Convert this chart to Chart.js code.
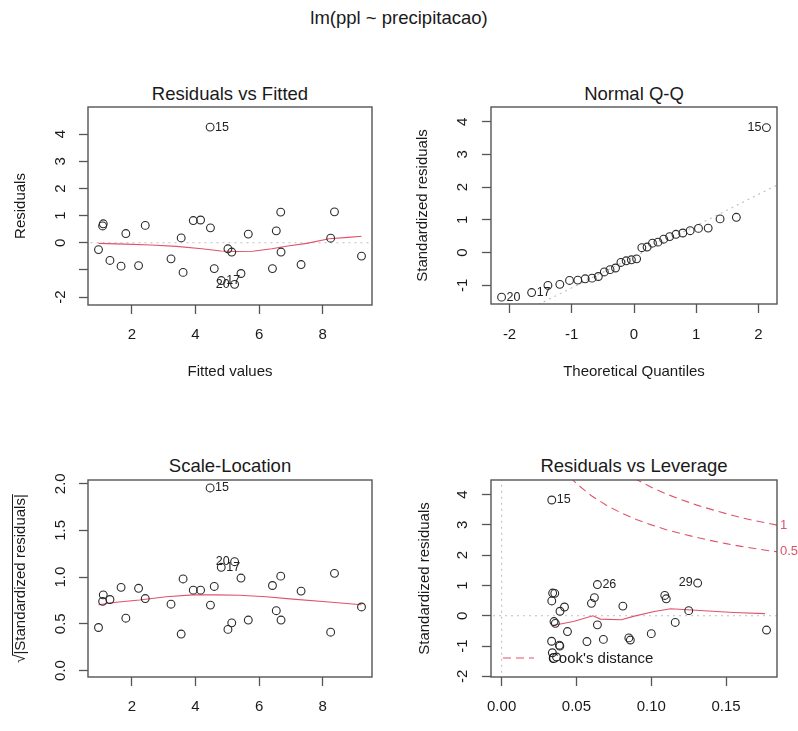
<!DOCTYPE html>
<html>
<head>
<meta charset="utf-8">
<title>lm(ppl ~ precipitacao)</title>
<script src="https://cdn.jsdelivr.net/npm/chart.js@4.4.1/dist/chart.umd.min.js"></script>
<style>
  body { margin: 0; background: #fff; }
  #wrap { position: relative; width: 798px; height: 731px; overflow: hidden;
          font-family: "Liberation Sans", Arial, sans-serif; color: #1a1a1a; }
  #wrap canvas { position: absolute; left: 0; top: 0; }
  .ttl { position: absolute; transform: translate(-50%, -50%); white-space: nowrap; font-size: 18.5px; }
</style>
</head>
<body>
<div id="wrap">
  <div class="ttl" style="left:399px;top:18px">lm(ppl ~ precipitacao)</div>
  <div class="ttl" style="left:230px;top:94px">Residuals vs Fitted</div>
  <div class="ttl" style="left:634px;top:94px">Normal Q-Q</div>
  <div class="ttl" style="left:230px;top:466px">Scale-Location</div>
  <div class="ttl" style="left:634px;top:466px">Residuals vs Leverage</div>
  <canvas id="c1" width="798" height="731"></canvas>
  <canvas id="c2" width="798" height="731"></canvas>
  <canvas id="c3" width="798" height="731"></canvas>
  <canvas id="c4" width="798" height="731"></canvas>
</div>

<script>
var fitted    = [0.95, 1.08, 1.10, 1.31, 1.66, 1.81, 2.21, 2.42, 3.23, 3.55, 3.61, 3.93, 4.16, 4.46, 4.47,
                 4.59, 4.81, 5.02, 5.14, 5.23, 5.43, 5.66, 6.42, 6.54, 6.68, 6.69, 7.32, 8.25, 8.37, 9.22];
var residuals = [-0.25, 0.62, 0.70, -0.65, -0.86, 0.34, -0.84, 0.64, -0.59, 0.18, -1.09, 0.82, 0.84, 4.26, 0.55,
                 -0.95, -1.39, -0.22, -0.34, -1.53, -1.13, 0.32, -0.95, 0.44, 1.13, -0.34, -0.80, 0.17, 1.14, -0.49];
var stdRes    = [-0.22, 0.56, 0.67, -0.59, -0.80, 0.32, -0.78, 0.60, -0.52, 0.15, -0.97, 0.74, 0.75, 3.82, 0.49,
                 -0.84, -1.22, -0.19, -0.25, -1.36, -1.00, 0.29, -0.85, 0.41, 1.03, -0.30, -0.73, 0.17, 1.08, -0.47];
var sqrtStdRes = [0.46, 0.74, 0.81, 0.76, 0.89, 0.56, 0.88, 0.77, 0.71, 0.39, 0.98, 0.86, 0.86, 1.955, 0.70,
                  0.90, 1.105, 0.44, 0.51, 1.165, 0.99, 0.54, 0.91, 0.64, 1.01, 0.54, 0.85, 0.41, 1.04, 0.68];
var leverage  = [0.116, 0.110, 0.109, 0.100, 0.086, 0.081, 0.068, 0.062, 0.044, 0.039, 0.0386, 0.0355, 0.0341, 0.0335, 0.0335,
                 0.0334, 0.0339, 0.0350, 0.0359, 0.0367, 0.0389, 0.042, 0.057, 0.060, 0.064, 0.064, 0.085, 0.125, 0.131, 0.177];

// normal Q-Q: theoretical quantiles and sorted standardized residuals
var qqTheo   = [-2.128, -1.645, -1.383, -1.192, -1.036, -0.903, -0.784, -0.674, -0.573, -0.477, -0.385, -0.297, -0.210, -0.126, -0.042,
                0.042, 0.126, 0.210, 0.297, 0.385, 0.477, 0.573, 0.674, 0.784, 0.903, 1.036, 1.192, 1.383, 1.645, 2.128];
var qqSample = [-1.36, -1.22, -1.00, -0.97, -0.85, -0.84, -0.80, -0.78, -0.73, -0.59, -0.52, -0.47, -0.30, -0.25, -0.22,
                -0.19, 0.15, 0.17, 0.29, 0.32, 0.41, 0.49, 0.56, 0.60, 0.67, 0.74, 0.75, 1.03, 1.08, 3.82];
var qqLineX = [-2.4, 2.4];
var qqLineY = [-2.41, 2.16];

// red smoothers
var smooth1X = [0.95, 1.8, 2.6, 3.4, 4.2, 4.8, 5.3, 5.8, 6.4, 6.9, 7.5, 8.2, 8.8, 9.22];
var smooth1Y = [-0.02, -0.05, -0.08, -0.13, -0.22, -0.30, -0.32, -0.31, -0.22, -0.12, -0.02, 0.15, 0.20, 0.24];
var smooth3X = [0.95, 1.51, 2.24, 3.08, 3.92, 4.65, 5.38, 6.22, 7.06, 8.1, 9.22];
var smooth3Y = [0.704, 0.73, 0.754, 0.79, 0.81, 0.81, 0.806, 0.79, 0.764, 0.736, 0.704];
var smooth4X = [0.034, 0.048, 0.061, 0.066, 0.080, 0.088, 0.102, 0.113, 0.124, 0.155, 0.176];
var smooth4Y = [-0.32, -0.19, 0.0, -0.11, -0.13, -0.02, 0.14, 0.23, 0.20, 0.11, 0.07];

// Cook's distance contours
var cookLev  = [0.04, 0.05, 0.06, 0.07, 0.08, 0.09, 0.10, 0.11, 0.12, 0.13, 0.14, 0.15, 0.16, 0.17, 0.184];
var cookHalf = [4.90, 4.36, 3.96, 3.65, 3.39, 3.18, 3.00, 2.84, 2.71, 2.59, 2.48, 2.38, 2.29, 2.21, 2.11];
var cookOne  = [6.93, 6.16, 5.60, 5.16, 4.80, 4.50, 4.24, 4.02, 3.83, 3.66, 3.51, 3.37, 3.24, 3.13, 2.99];

// ticks
var xTicks1 = [2, 4, 6, 8];           var xLabels1 = ['2', '4', '6', '8'];
var yTicks1 = [-2, -1, 0, 1, 2, 3, 4]; var yLabels1 = ['-2', '', '0', '1', '2', '3', '4'];
var xTicks2 = [-2, -1, 0, 1, 2];       var xLabels2 = ['-2', '-1', '0', '1', '2'];
var yTicks2 = [-1, 0, 1, 2, 3, 4];     var yLabels2 = ['-1', '0', '1', '2', '3', '4'];
var yTicks3 = [0, 0.5, 1, 1.5, 2];     var yLabels3 = ['0.0', '0.5', '1.0', '1.5', '2.0'];
var xTicks4 = [0, 0.05, 0.10, 0.15];   var xLabels4 = ['0.00', '0.05', '0.10', '0.15'];
var yTicks4 = [-2, -1, 0, 1, 2, 3, 4]; var yLabels4 = ['-2', '-1', '0', '1', '2', '3', '4'];

var FONT = '"Liberation Sans", Arial, sans-serif';
var RED = '#DF536B';
var GREY = '#BEBEBE';
Chart.defaults.font.family = FONT;
Chart.defaults.color = '#1a1a1a';

function pts(xs, ys) {
    return xs.map(function (x, i) { return {x: x, y: ys[i]}; });
}
function circles(xs, ys) {
    return {data: pts(xs, ys), pointStyle: 'circle', pointRadius: 3.9, pointBorderWidth: 1.1,
            pointBorderColor: '#2a2a2a', pointBackgroundColor: 'rgba(0,0,0,0)', showLine: false};
}
function path(xs, ys, color, dash) {
    return {data: pts(xs, ys), showLine: true, pointRadius: 0, borderColor: color, borderWidth: 1.1,
            borderDash: dash || [], fill: false, tension: 0};
}

function axis(min, max, ticks, labels, size, title, pad, vertical) {
    var t = {autoSkip: false, padding: pad, color: '#1a1a1a', font: {size: 15},
             callback: function (v, i) { return labels[i]; }};
    if (vertical) {
        t.minRotation = 90; t.maxRotation = 90; t.crossAlign = 'center';
    } else {
        t.maxRotation = 0;
    }
    return {
        type: 'linear', min: min, max: max, bounds: 'data',
        afterBuildTicks: function (s) { s.ticks = ticks.map(function (v) { return {value: v}; }); },
        afterFit: function (s) { if (vertical) s.width = size; else s.height = size; },
        grid: {drawOnChartArea: false, drawTicks: true, tickLength: 9, tickWidth: 1.3, tickColor: '#555'},
        border: {display: false},
        ticks: t,
        title: {display: !!title, text: title, padding: 0, color: '#1a1a1a', font: {size: 15}}
    };
}

function panel(id, p) {
    var b = p.box;
    var extras = {
        id: 'extras' + id,
        afterDatasetsDraw: function (chart) {
            var ctx = chart.ctx, a = chart.chartArea, sx = chart.scales.x, sy = chart.scales.y;
            ctx.save();
            ctx.strokeStyle = '#555';
            ctx.lineWidth = 1.4;
            ctx.strokeRect(a.left, a.top, a.right - a.left, a.bottom - a.top);
            // point ids, R style: right of the point in the left half, left of it otherwise
            ctx.font = '12.5px ' + FONT;
            ctx.fillStyle = '#222';
            ctx.textBaseline = 'middle';
            var mid = (Math.min.apply(null, p.lx) + Math.max.apply(null, p.lx)) / 2;
            p.ids.forEach(function (d) {
                var i = d[0], px = sx.getPixelForValue(p.lx[i]), py = sy.getPixelForValue(p.ly[i]);
                var right = p.lx[i] <= mid;
                ctx.textAlign = right ? 'left' : 'right';
                ctx.fillText(d[1], px + (right ? 5 : -5), py);
            });
            if (p.extra) p.extra(chart, ctx, a, sx, sy);
            ctx.restore();
        }
    };
    return new Chart(document.getElementById(id), {
        type: 'scatter',
        data: {datasets: p.datasets},
        options: {
            responsive: false, animation: false, events: [],
            layout: {padding: {left: b.l - p.yw, top: b.t, right: 798 - b.r, bottom: 731 - b.b - p.xh}},
            plugins: {legend: {display: false}, tooltip: {enabled: false}},
            scales: {
                x: axis(p.xr[0], p.xr[1], p.xt, p.xl, p.xh, p.xTitle, p.xpad, false),
                y: axis(p.yr[0], p.yr[1], p.yt, p.yl, p.yw, p.yTitle, p.ypad, true)
            }
        },
        plugins: [extras]
    });
}

// Residuals vs Fitted
panel('c1', {
    box: {l: 88, r: 372, t: 107, b: 305}, yw: 76, xh: 76, xpad: 12, ypad: 11,
    xr: [0.62, 9.55], yr: [-2.29, 5.0], xt: xTicks1, xl: xLabels1, yt: yTicks1, yl: yLabels1,
    xTitle: 'Fitted values', yTitle: 'Residuals',
    lx: fitted, ly: residuals, ids: [[13, '15'], [16, '17'], [19, '20']],
    datasets: [
        circles(fitted, residuals),
        path(smooth1X, smooth1Y, RED),
        path([-1, 11], [0, 0], GREY, [2, 4])
    ]
});

// Normal Q-Q
panel('c2', {
    box: {l: 491, r: 777, t: 107, b: 304}, yw: 77, xh: 77, xpad: 13, ypad: 12,
    xr: [-2.298, 2.298], yr: [-1.57, 4.45], xt: xTicks2, xl: xLabels2, yt: yTicks2, yl: yLabels2,
    xTitle: 'Theoretical Quantiles', yTitle: 'Standardized residuals',
    lx: qqTheo, ly: qqSample, ids: [[0, '20'], [1, '17'], [29, '15']],
    datasets: [
        circles(qqTheo, qqSample),
        path(qqLineX, qqLineY, GREY, [2, 4])
    ]
});

// Scale-Location
panel('c3', {
    box: {l: 88, r: 372, t: 480, b: 677}, yw: 76, xh: 45, xpad: 12, ypad: 8,
    xr: [0.62, 9.55], yr: [-0.07, 2.04], xt: xTicks1, xl: xLabels1, yt: yTicks3, yl: yLabels3,
    xTitle: '', yTitle: '\u221A|Standardized residuals|',
    lx: fitted, ly: sqrtStdRes, ids: [[13, '15'], [16, '17'], [19, '20']],
    datasets: [
        circles(fitted, sqrtStdRes),
        path(smooth3X, smooth3Y, RED)
    ],
    extra: function (chart, ctx, a, sx, sy) {
        // bar over |...| of the sqrt title
        ctx.font = '15px ' + FONT;
        var w = ctx.measureText('\u221A|Standardized residuals|').width;
        var wr = ctx.measureText('\u221A').width;
        var cy = (a.top + a.bottom) / 2, cx = sy.left + 9 - 8.5;
        ctx.strokeStyle = '#1a1a1a';
        ctx.lineWidth = 1;
        ctx.beginPath();
        ctx.moveTo(cx, cy + w / 2 - wr + 1);
        ctx.lineTo(cx, cy - w / 2);
        ctx.stroke();
    }
});

// Residuals vs Leverage
panel('c4', {
    box: {l: 491, r: 777, t: 480, b: 677}, yw: 75, xh: 45, xpad: 12, ypad: 12,
    xr: [-0.0071, 0.184], yr: [-2.02, 4.48], xt: xTicks4, xl: xLabels4, yt: yTicks4, yl: yLabels4,
    xTitle: '', yTitle: 'Standardized residuals',
    lx: leverage, ly: stdRes, ids: [[13, '15'], [24, '26'], [28, '29']],
    datasets: [
        circles(leverage, stdRes),
        path(smooth4X, smooth4Y, RED),
        path(cookLev, cookHalf, RED, [8, 5]),
        path(cookLev, cookOne, RED, [8, 5]),
        path([-1, 1], [0, 0], GREY, [2, 4]),
        path([0, 0], [-10, 10], GREY, [2, 4])
    ],
    extra: function (chart, ctx, a, sx, sy) {
        // contour levels at the right margin
        ctx.font = '13px ' + FONT;
        ctx.fillStyle = RED;
        ctx.textAlign = 'left';
        ctx.fillText('1', a.right + 3, sy.getPixelForValue(cookOne[cookOne.length - 1]));
        ctx.fillText('0.5', a.right + 3, sy.getPixelForValue(cookHalf[cookHalf.length - 1]));
        // legend, bottom left
        var ly = a.bottom - 19;
        ctx.strokeStyle = RED;
        ctx.lineWidth = 1.1;
        ctx.setLineDash([8, 5]);
        ctx.beginPath();
        ctx.moveTo(a.left + 12, ly);
        ctx.lineTo(a.left + 43, ly);
        ctx.stroke();
        ctx.setLineDash([]);
        ctx.font = '15px ' + FONT;
        ctx.fillStyle = '#1a1a1a';
        ctx.fillText("Cook's distance", a.left + 57, ly + 1);
    }
});
</script>
</body>
</html>
